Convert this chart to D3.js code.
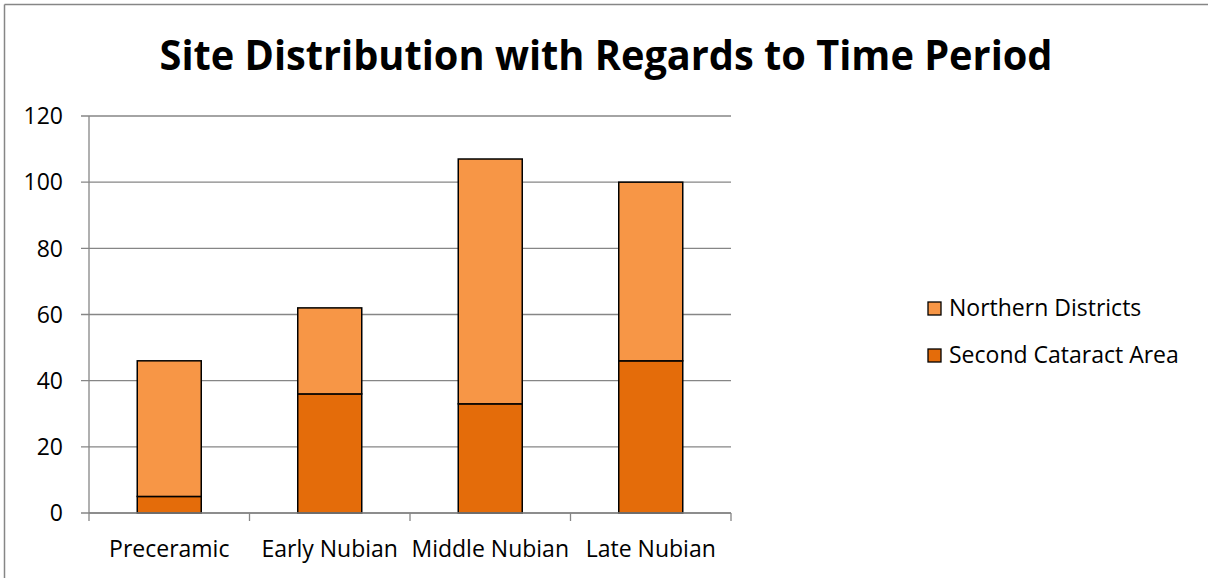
<!DOCTYPE html>
<html><head><meta charset="utf-8">
<script src="https://cdn.jsdelivr.net/npm/d3@7"></script>
<style>html,body{margin:0;background:#fff;overflow:hidden}svg{display:block}text{font-family:"Open Sans","Noto Sans",sans-serif}</style>
</head><body><svg id="c" width="1208" height="578"></svg>
<script>
const categories = ["Preceramic", "Early Nubian", "Middle Nubian", "Late Nubian"];
const secondCataract = [5, 36, 33, 46];
const northernDistricts = [41, 26, 74, 54];
const seriesNames = ["Northern Districts", "Second Cataract Area"];
const yTicks = [0, 20, 40, 60, 80, 100, 120];
const colors = {"Second Cataract Area": "#E46C0A", "Northern Districts": "#F79646"};

const svg = d3.select("#c");
// outer chart border (top and left visible)
svg.append("line").attr("x1", 4.5).attr("x2", 1208).attr("y1", 4.5).attr("y2", 4.5)
  .attr("stroke", "#868686").attr("stroke-width", 1.5);
svg.append("line").attr("x1", 4.5).attr("x2", 4.5).attr("y1", 4.5).attr("y2", 578)
  .attr("stroke", "#868686").attr("stroke-width", 1.5);

const L = 89, R = 731, T = 116, B = 513;
const x = d3.scaleBand().domain(categories).range([L, R]);
const y = d3.scaleLinear().domain([0, 120]).range([B, T]);

// gridlines
svg.append("g").selectAll("line").data(yTicks).join("line")
  .attr("x1", L - 8).attr("x2", R).attr("y1", d => y(d)).attr("y2", d => y(d))
  .attr("stroke", "#868686").attr("stroke-width", 1.3);

// y labels
svg.append("g").selectAll("text").data(yTicks).join("text")
  .attr("x", 63).attr("y", d => y(d)).attr("dy", "0.36em").attr("text-anchor", "end")
  .attr("font-size", 23).attr("fill", "#000").text(d => d);

// axes lines
svg.append("line").attr("x1", L).attr("x2", L).attr("y1", T).attr("y2", B)
  .attr("stroke", "#868686").attr("stroke-width", 1.3);
const bounds = categories.map(c => x(c)).concat([R]);
svg.append("g").selectAll("line").data(bounds).join("line")
  .attr("x1", d => d).attr("x2", d => d).attr("y1", B).attr("y2", B + 8)
  .attr("stroke", "#868686").attr("stroke-width", 1.3);

// stacked bars
const data = categories.map((c, i) => ({cat: c, "Second Cataract Area": secondCataract[i], "Northern Districts": northernDistricts[i]}));
const stack = d3.stack().keys(["Second Cataract Area", "Northern Districts"])(data);
const bw = 64;
stack.forEach(s => {
  svg.append("g").selectAll("rect").data(s).join("rect")
    .attr("x", d => x(d.data.cat) + x.bandwidth() / 2 - bw / 2)
    .attr("y", d => y(d[1]))
    .attr("width", bw)
    .attr("height", d => y(d[0]) - y(d[1]))
    .attr("fill", colors[s.key]).attr("stroke", "#000").attr("stroke-width", 1.5);
});

// x axis line on top
svg.append("line").attr("x1", L).attr("x2", R).attr("y1", B).attr("y2", B)
  .attr("stroke", "#868686").attr("stroke-width", 1.3);

// category labels
svg.append("g").selectAll("text").data(categories).join("text")
  .attr("x", d => x(d) + x.bandwidth() / 2).attr("y", 556.5).attr("text-anchor", "middle")
  .attr("font-size", 23).attr("fill", "#000").text(d => d);

// title
svg.append("text").attr("x", 606).attr("y", 70).attr("text-anchor", "middle")
  .attr("font-size", 42).attr("font-weight", "bold").attr("fill", "#000")
  .attr("textLength", 893).attr("lengthAdjust", "spacingAndGlyphs")
  .text("Site Distribution with Regards to Time Period");

// legend
const leg = svg.append("g");
seriesNames.forEach((n, i) => {
  const yy = 308 + i * 47;
  leg.append("rect").attr("x", 928).attr("y", yy - 6).attr("width", 13).attr("height", 13)
    .attr("fill", colors[n]).attr("stroke", "#000").attr("stroke-width", 1.3);
  leg.append("text").attr("x", 949).attr("y", yy).attr("dy", "0.36em")
    .attr("font-size", 23).attr("fill", "#000").text(n);
});
</script></body></html>
